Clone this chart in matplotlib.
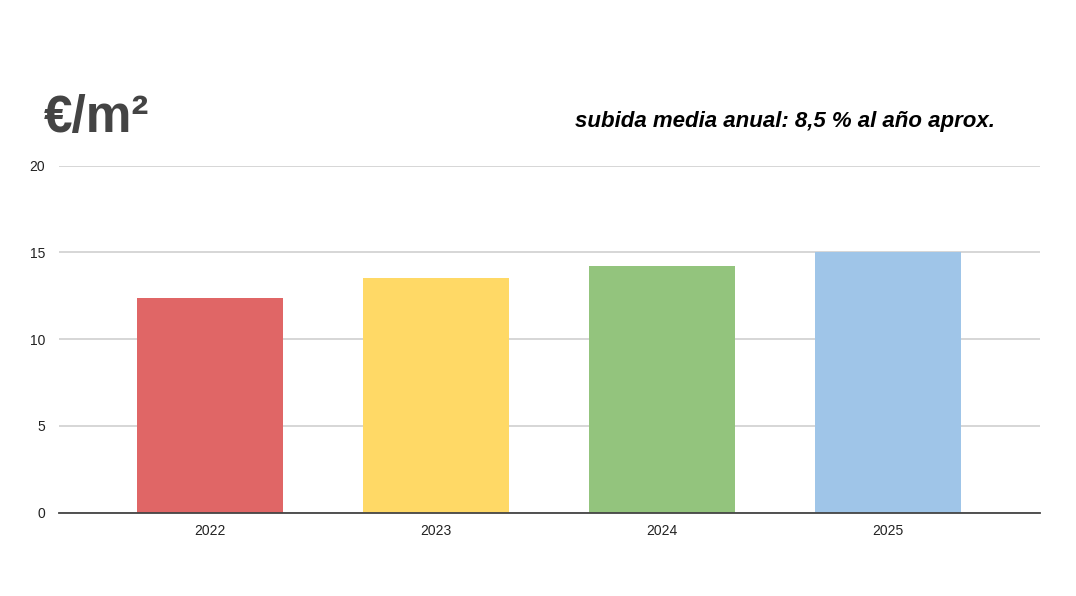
import matplotlib.pyplot as plt

# datos
years = ["2022", "2023", "2024", "2025"]
precio = [12.4, 13.55, 14.2, 15.05]
colores = ["#e06666", "#ffd966", "#93c47d", "#9fc5e8"]

plt.rcParams['font.family'] = ['Liberation Sans', 'DejaVu Sans']

fig = plt.figure(figsize=(10.76, 5.96), dpi=100)
ax = fig.add_axes([0.0548, 0.1398, 0.9117, 0.5822])

ax.bar(range(len(years)), precio, width=0.646, color=colores, zorder=3)

ax.set_xlim(-0.668, 3.672)
ax.set_ylim(0, 20)
ax.set_yticks([0, 5, 10, 15, 20])
ax.set_xticks(range(len(years)))
ax.set_xticklabels(years)

ax.grid(axis='y', color='#d0d0d0', lw=1.2, zorder=0)
for s in ['top', 'right', 'left']:
    ax.spines[s].set_visible(False)
ax.spines['bottom'].set_color('#444444')
ax.spines['bottom'].set_linewidth(1.3)
ax.spines['bottom'].set_zorder(4)
ax.tick_params(length=0, labelsize=10, colors='#222222')
ax.tick_params(axis='y', pad=10)
ax.tick_params(axis='x', pad=8)

# titulos
fig.text(44 / 1076, 1 - 132 / 596, "€/m²", fontsize=37, fontweight='bold',
         color='#444444', ha='left', va='baseline')
fig.text(995 / 1076, 1 - 127 / 596, "subida media anual: 8,5 % al año aprox.",
         fontsize=16, fontweight='bold', style='italic', color='black',
         ha='right', va='baseline')

fig.savefig("out.png", dpi=100)
